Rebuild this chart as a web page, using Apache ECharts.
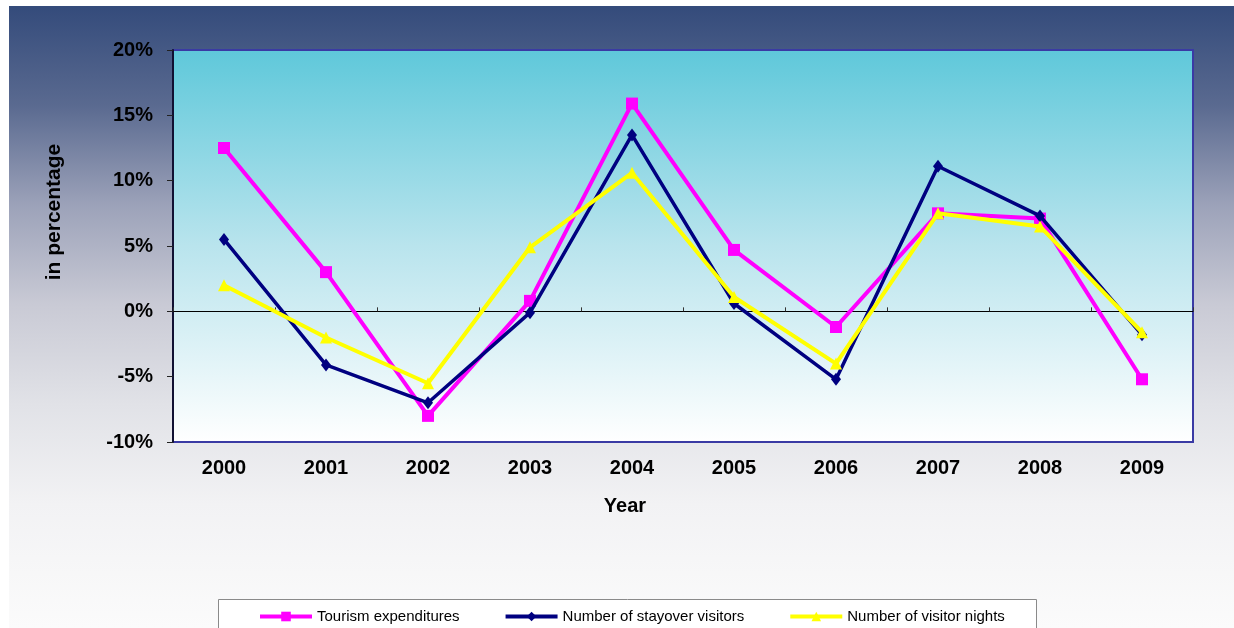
<!DOCTYPE html>
<html>
<head>
<meta charset="utf-8">
<script src="https://cdn.jsdelivr.net/npm/echarts@6/dist/echarts.min.js"></script>
<style>
  html, body { margin: 0; padding: 0; background: #ffffff; }
  #chart { width: 1234px; height: 628px; }
</style>
</head>
<body>
<div id="chart"></div>
<script>
// Annual growth rates, percent
const years = ['2000', '2001', '2002', '2003', '2004', '2005', '2006', '2007', '2008', '2009'];
const tourismExpenditures = [12.5, 3.0, -8.0, 0.8, 15.9, 4.7, -1.2, 7.5, 7.1, -5.2];
const stayoverVisitors = [5.5, -4.1, -7.0, -0.1, 13.5, 0.6, -5.2, 11.1, 7.3, -1.8];
const visitorNights = [2.0, -2.0, -5.5, 4.9, 10.6, 1.1, -4.0, 7.5, 6.5, -1.6];
const seriesNames = ['Tourism expenditures', 'Number of stayover visitors', 'Number of visitor nights'];

const FONT = "'Liberation Sans', Arial, sans-serif";
const chart = echarts.init(document.getElementById('chart'), null, { renderer: 'canvas' });

const option = {
  animation: false,
  textStyle: { fontFamily: FONT },
  graphic: [
    {
      type: 'rect', z: -10,
      shape: { x: 9, y: 6, width: 1225, height: 622 },
      style: {
        fill: new echarts.graphic.LinearGradient(0, 0, 0, 1, [
          { offset: 0, color: '#344b7b' },
          { offset: 0.16, color: '#5a6a90' },
          { offset: 0.32, color: '#9ca2b9' },
          { offset: 0.48, color: '#c9cad5' },
          { offset: 0.64, color: '#e1e2e7' },
          { offset: 0.8, color: '#f2f2f4' },
          { offset: 1, color: '#fbfbfb' }
        ])
      }
    },
    {
      type: 'rect', z: 5,
      shape: { x: 218.5, y: 599.5, width: 818, height: 40 },
      style: { fill: '#ffffff', stroke: '#8a8a8a', lineWidth: 1 }
    },
    {
      type: 'text', z: 5,
      x: 54, y: 212, rotation: Math.PI / 2,
      style: {
        text: 'in percentage', fill: '#000000',
        font: 'bold 21px ' + FONT, align: 'center', verticalAlign: 'middle'
      }
    },
    {
      type: 'text', z: 5,
      x: 625, y: 506,
      style: {
        text: 'Year', fill: '#000000',
        font: 'bold 20px ' + FONT, align: 'center', verticalAlign: 'middle'
      }
    }
  ],
  grid: {
    left: 173, top: 50, right: 41, bottom: 186,
    show: true,
    borderColor: '#3a3aa4',
    borderWidth: 2,
    backgroundColor: new echarts.graphic.LinearGradient(0, 0, 0, 1, [
      { offset: 0, color: '#5ec8da' },
      { offset: 0.5, color: '#b9e4ed' },
      { offset: 1, color: '#ffffff' }
    ])
  },
  legend: {
    z: 10,
    left: 258, top: 609,
    itemWidth: 52, itemHeight: 12, itemGap: 44,
    padding: 0,
    lineStyle: { width: 4 },
    textStyle: { fontSize: 15, color: '#000000', fontFamily: FONT },
    data: seriesNames
  },
  xAxis: [
    {
      type: 'category', data: years, position: 'bottom',
      axisLine: { show: false, onZero: false },
      axisTick: { show: false },
      axisLabel: { fontSize: 20, fontWeight: 'bold', color: '#000000', margin: 16 },
      splitLine: { show: false }
    },
    {
      type: 'category', data: years, position: 'bottom',
      axisLine: { show: true, onZero: true, lineStyle: { color: '#000000', width: 1 } },
      axisTick: { show: true, inside: true, length: 4, lineStyle: { color: '#333333' } },
      axisLabel: { show: false },
      splitLine: { show: false }
    }
  ],
  yAxis: {
    type: 'value', min: -10, max: 20, interval: 5,
    axisLine: { show: true, lineStyle: { color: '#111133', width: 2 } },
    axisTick: { show: true, length: 6, lineStyle: { color: '#222222' } },
    axisLabel: {
      formatter: '{value}%', fontSize: 20, fontWeight: 'bold', color: '#000000', margin: 20
    },
    splitLine: { show: false }
  },
  series: [
    {
      name: seriesNames[0], type: 'line', data: tourismExpenditures, xAxisIndex: 0,
      symbol: 'rect', symbolSize: 12,
      lineStyle: { color: '#ff00ff', width: 4 },
      itemStyle: { color: '#ff00ff' },
      z: 2
    },
    {
      name: seriesNames[1], type: 'line', data: stayoverVisitors, xAxisIndex: 0,
      symbol: 'diamond', symbolSize: [10, 13],
      lineStyle: { color: '#000080', width: 3.5 },
      itemStyle: { color: '#000080' },
      z: 3
    },
    {
      name: seriesNames[2], type: 'line', data: visitorNights, xAxisIndex: 0,
      symbol: 'triangle', symbolSize: 12,
      lineStyle: { color: '#ffff00', width: 4 },
      itemStyle: { color: '#ffff00' },
      z: 4
    }
  ]
};

chart.setOption(option);
</script>
</body>
</html>
